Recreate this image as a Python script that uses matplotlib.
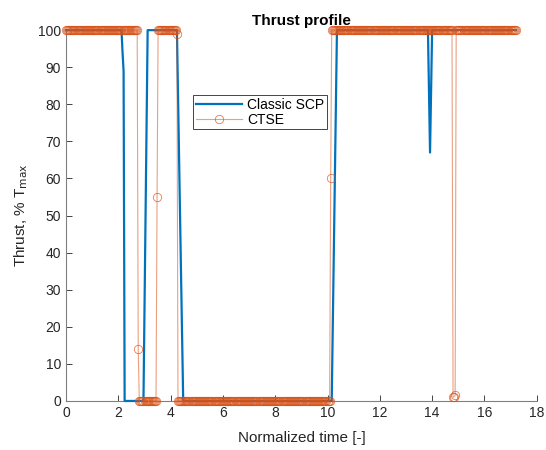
import numpy as np
import matplotlib
matplotlib.use('Agg')
import matplotlib.pyplot as plt

plt.rcParams['font.family'] = ['Liberation Sans', 'DejaVu Sans']

# sample spacing of the normalized time axis
dt = 0.04

# run-length description of each series: (value, number of samples)
scp_runs = [(100, 54), (94, 1), (89, 1), (0, 19), (25, 1), (50, 1), (75, 1),
            (100, 29), (83, 1), (67, 1), (50, 1), (33, 1), (17, 1),
            (0, 143), (20, 1), (40, 1), (60, 1), (80, 1),
            (100, 88), (83, 1), (67, 1), (83, 1), (100, 81)]
ctse_runs = [(100, 69), (14, 1), (0, 17), (55, 1), (100, 18), (99, 1),
             (0, 146), (60, 1), (100, 116), (1, 1), (1.2, 1), (1.5, 1),
             (100, 58)]

x_ticks = [0, 2, 4, 6, 8, 10, 12, 14, 16, 18]
y_ticks = [0, 10, 20, 30, 40, 50, 60, 70, 80, 90, 100]


def expand(runs):
    vals = []
    for v, n in runs:
        vals += [v] * n
    return np.array(vals, dtype=float)


scp = expand(scp_runs)
ctse = expand(ctse_runs)
t = np.arange(len(scp)) * dt

fig = plt.figure(figsize=(5.46, 4.5), dpi=100)
ax = fig.add_axes([0.121, 0.109, 0.862, 0.824])

ax.plot(t, scp, color='#0072BD', lw=1.6, label='Classic SCP', clip_on=False, zorder=3)
ax.plot(t, ctse, color=(0.85, 0.325, 0.098, 0.55), lw=0.8, marker='o', ms=6,
        mfc='none', mec=(0.85, 0.325, 0.098, 0.75), mew=0.6, label='CTSE',
        clip_on=False, zorder=4)

ax.set_xlim(0, 18)
ax.set_ylim(0, 100)
ax.set_xticks(x_ticks)
ax.set_yticks(y_ticks)
ax.tick_params(direction='in', length=4, width=0.6, colors='#262626', labelsize=10)
for s in ['top', 'right']:
    ax.spines[s].set_visible(False)
for s in ['left', 'bottom']:
    ax.spines[s].set_color('#808080')
    ax.spines[s].set_linewidth(0.8)

ax.set_title('Thrust profile', fontsize=11, fontweight='bold', pad=4, color='#000000')
ax.set_xlabel('Normalized time [-]', fontsize=11, color='#262626', labelpad=8)
ax.set_ylabel('Thrust, % T$_{\\rm max}$', fontsize=11, color='#262626', labelpad=6)

leg = ax.legend(loc='upper left', bbox_to_anchor=(0.27, 0.825), fontsize=10,
                fancybox=False, framealpha=1, edgecolor='#262626',
                handlelength=3.3, borderpad=0.2, labelspacing=0.05,
                borderaxespad=0, handletextpad=0.4)
leg.get_frame().set_linewidth(0.6)

fig.savefig('out.png', dpi=100)
